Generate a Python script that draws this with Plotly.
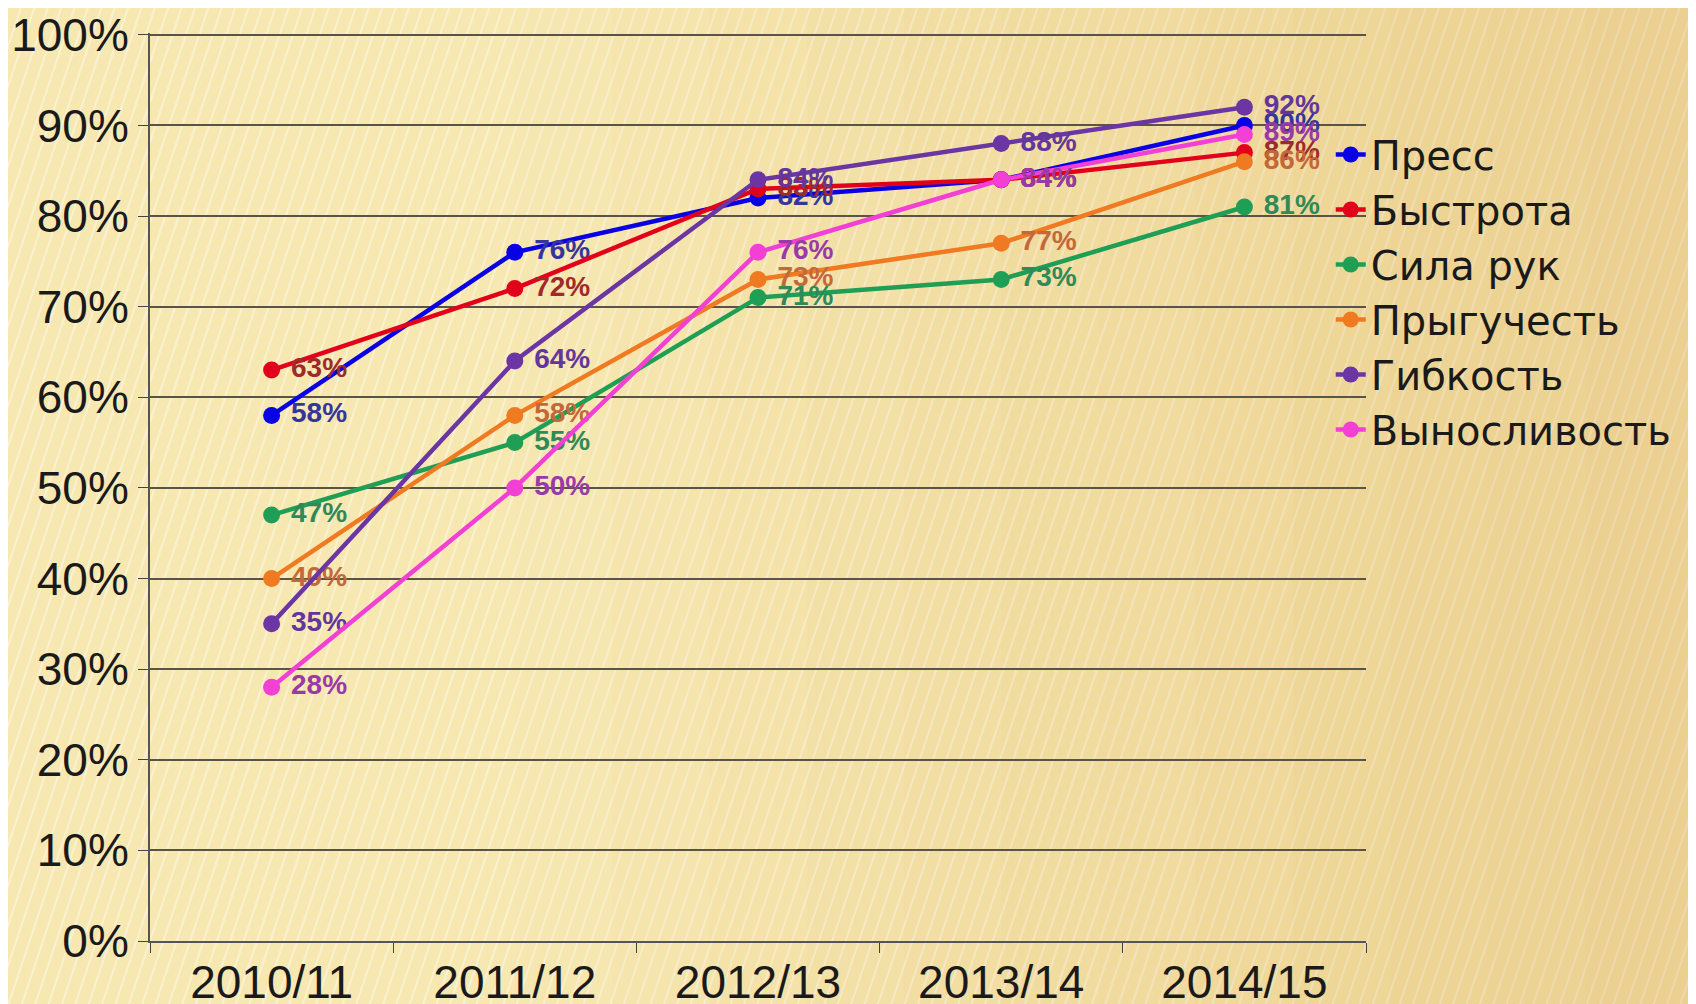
import plotly.graph_objects as go

years = ["2010/11", "2011/12", "2012/13", "2013/14", "2014/15"]
names = ["Пресс", "Быстрота", "Сила рук", "Прыгучесть", "Гибкость", "Выносливость"]
press = [58, 76, 82, 84, 90]
bystrota = [63, 72, 83, 84, 87]
sila = [47, 55, 71, 73, 81]
prygu = [40, 58, 73, 77, 86]
gibkost = [35, 64, 84, 88, 92]
vynos = [28, 50, 76, 84, 89]
series = [press, bystrota, sila, prygu, gibkost, vynos]
y_ticks = list(range(0, 101, 10))
y_tick_text = [f"{v}%" for v in y_ticks]
line_colors = ["#0a00e6", "#e3001b", "#1f9e55", "#ef7a22", "#6b36a3", "#f23fd4"]
label_colors = ["#35359c", "#9e2a2a", "#2f8a58", "#c4673a", "#63379a", "#9a3aa6"]

fig = go.Figure()
for name, vals, lc, tc in zip(names, series, line_colors, label_colors):
    fig.add_trace(go.Scatter(
        x=years, y=vals, name=name, mode="lines+markers+text",
        line=dict(color=lc, width=4.5),
        marker=dict(color=lc, size=17),
        text=[f" {v}%" for v in vals], textposition="middle right",
        textfont=dict(family="Liberation Sans", size=28, color=tc, weight="bold"),
        cliponaxis=False,
    ))

# decorative diagonal stripes in background
shapes = []
for i in range(-40, 150):
    x0 = i * 0.011
    shapes.append(dict(type="line", xref="paper", yref="paper", layer="below",
                       x0=x0 - 0.3, y0=-0.1, x1=x0, y1=1.1,
                       line=dict(color="rgba(255,255,255,0.4)", width=2)))
# soft darker tone toward the right (stepped gradient)
for k in range(12):
    shapes.append(dict(type="rect", xref="paper", yref="paper", layer="below",
                       x0=0.3 + k * 0.08, y0=-0.1, x1=1.4, y1=1.1, line=dict(width=0),
                       fillcolor="rgba(200,150,40,0.018)"))

fig.update_layout(
    width=1696, height=1004,
    margin=dict(l=142, r=338, t=25, b=71),
    paper_bgcolor="#f7e8b2",
    plot_bgcolor="rgba(0,0,0,0)",
    font=dict(family="Liberation Sans", color="#222222"),
    showlegend=True,
    legend=dict(x=0.971, y=0.902, xanchor="left", yanchor="top",
                bgcolor="rgba(0,0,0,0)",
                font=dict(family="DejaVu Sans", size=40, color="#1a1a1a"),
                itemwidth=30, tracegroupgap=0),
    shapes=shapes,
)
fig.update_xaxes(type="category", tickson="boundaries", ticks="outside", ticklen=10,
                 tickcolor="#444444", showline=True, linecolor="#555555", linewidth=2,
                 showgrid=False, tickfont=dict(size=46, color="#1a1a1a"),
                 range=[-0.5, 4.5], automargin=False)
fig.update_yaxes(range=[0, 100.2], tickvals=y_ticks, ticktext=y_tick_text,
                 ticks="outside", ticklen=10, ticklabeloverflow="allow",
                 tickcolor="#444444", showline=True, linecolor="#555555", linewidth=2,
                 showgrid=True, gridcolor="#5a5448", gridwidth=2, automargin=False,
                 tickfont=dict(size=46, color="#1a1a1a"), zeroline=False)

fig.write_html("out.html")
